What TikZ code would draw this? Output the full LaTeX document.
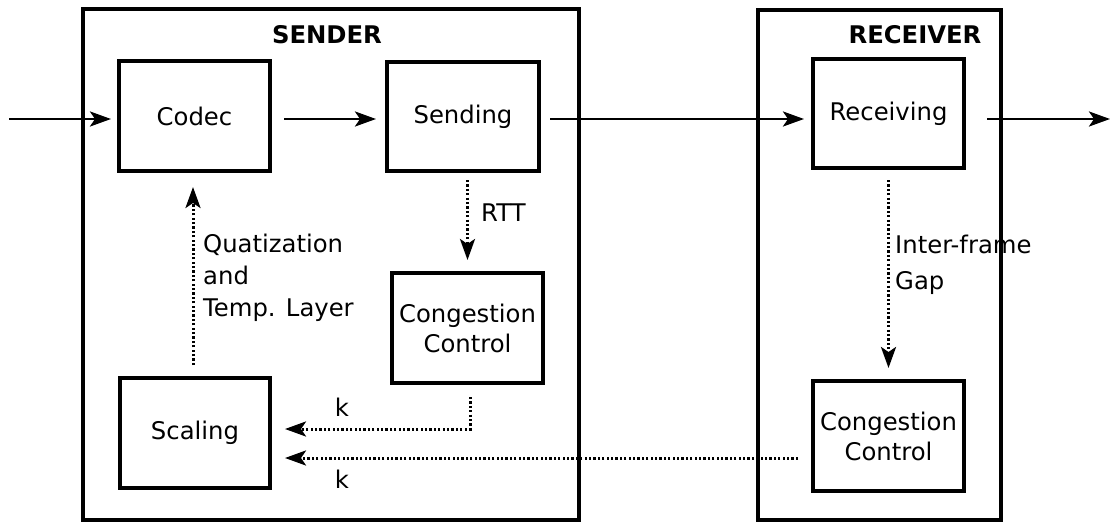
\documentclass[tikz,border=0pt]{standalone}
\usepackage{fontspec}
\setmainfont{DejaVu Sans}
\usetikzlibrary{arrows.meta}
\begin{document}
\begin{tikzpicture}[x=1pt,y=-1pt,
  font=\fontsize{24.3}{30}\selectfont,
  heading/.style={font=\fontsize{24.3}{30}\selectfont\bfseries},
  frame/.style={draw,line width=3.6pt,inner sep=0pt},
  block/.style={draw,line width=4pt,inner sep=0pt,align=center},
  note/.style={inner sep=0pt,align=left},
  arr/.style={line width=2.8pt,-{Stealth[length=21pt,width=15pt,inset=5pt]}},
  dotarr/.style={arr,line width=3pt,dash pattern=on 2.2pt off 2.2pt}]
\useasboundingbox (0,0) rectangle (1120,522);

% outer frames
\node[frame,minimum width=496pt,minimum height=511pt] (sender) at (331,264.5) {};
\node[frame,minimum width=243pt,minimum height=510pt] (receiver) at (879.5,265) {};
\node[heading] (sendertitle) at (327,35) {SENDER};
\node[heading] (receivertitle) at (915,35) {RECEIVER};

% processing blocks
\node[block,minimum width=151pt,minimum height=110pt] (codec) at (194.5,116) {Codec};
\node[block,minimum width=152pt,minimum height=109pt] (sending) at (463,116.5) {Sending};
\node[block,minimum width=151pt,minimum height=109pt] (receiving) at (888.5,113.5) {Receiving};
\node[block,minimum width=151pt,minimum height=110pt] (cc1) at (467.5,328) {Congestion\\Control};
\node[block,minimum width=150pt,minimum height=110pt] (scaling) at (195,433) {Scaling};
\node[block,minimum width=151pt,minimum height=110pt] (cc2) at (888.5,436) {Congestion\\Control};

% free ends of the data path
\coordinate (in) at (9,119);
\coordinate (out) at (1110,119);

% data path
\draw[arr,shorten >=6pt] (in) -- (in -| codec.west);
\draw[arr,shorten <=12pt,shorten >=9pt] (in -| codec.east) -- (in -| sending.west);
\draw[arr,shorten <=9pt,shorten >=7pt] (in -| sending.east) -- (in -| receiving.west);
\draw[arr,shorten <=21pt] (in -| receiving.east) -- (out);

% feedback paths
\draw[dotarr,shorten <=7pt,shorten >=11pt] (sending.south -| cc1.north) -- (cc1.north);
\node[note,anchor=west] (rtt) at (481,213) {RTT};

\draw[dotarr,shorten <=10pt,shorten >=11pt] (receiving.south) -- (cc2.north);
\node[note,anchor=west,font=\fontsize{24.3}{36}\selectfont] (gap) at (895,265) {Inter-frame\\Gap};

\draw[dotarr,shorten <=11pt,shorten >=14pt] (scaling.north -| 193,0) -- (codec.south -| 193,0);
\node[note,anchor=west,font=\fontsize{24.3}{32}\selectfont] (quant) at (203,278) {Quatization\\and\\Temp. Layer};

\draw[dotarr,shorten <=12pt,shorten >=13pt] (cc1.south -| 470,0) |- ([yshift=4pt]scaling.east);
\node[note] (k1) at (342,407) {k};

\draw[dotarr,shorten <=13pt,shorten >=13pt] ([yshift=-25pt]scaling.east -| cc2.west) -- ([yshift=-25pt]scaling.east);
\node[note] (k2) at (342,479) {k};
\end{tikzpicture}
\end{document}
